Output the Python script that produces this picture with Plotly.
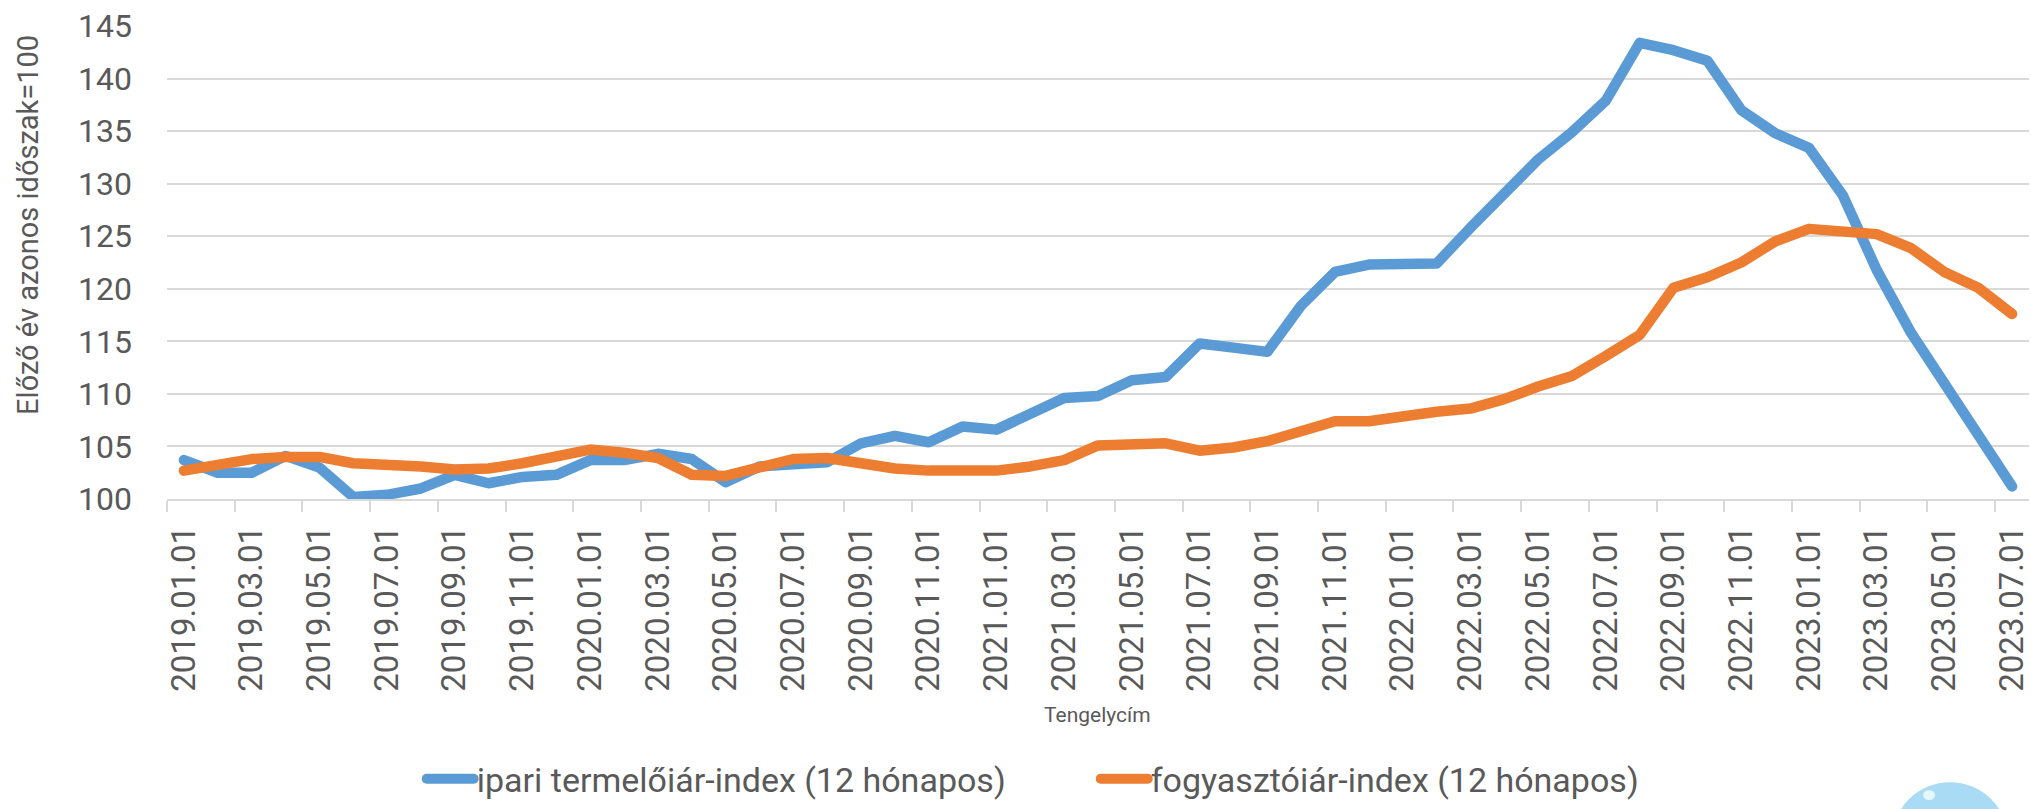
import plotly.graph_objects as go

months = [
    "2019.01.01", "2019.02.01", "2019.03.01", "2019.04.01", "2019.05.01", "2019.06.01",
    "2019.07.01", "2019.08.01", "2019.09.01", "2019.10.01", "2019.11.01", "2019.12.01",
    "2020.01.01", "2020.02.01", "2020.03.01", "2020.04.01", "2020.05.01", "2020.06.01",
    "2020.07.01", "2020.08.01", "2020.09.01", "2020.10.01", "2020.11.01", "2020.12.01",
    "2021.01.01", "2021.02.01", "2021.03.01", "2021.04.01", "2021.05.01", "2021.06.01",
    "2021.07.01", "2021.08.01", "2021.09.01", "2021.10.01", "2021.11.01", "2021.12.01",
    "2022.01.01", "2022.02.01", "2022.03.01", "2022.04.01", "2022.05.01", "2022.06.01",
    "2022.07.01", "2022.08.01", "2022.09.01", "2022.10.01", "2022.11.01", "2022.12.01",
    "2023.01.01", "2023.02.01", "2023.03.01", "2023.04.01", "2023.05.01", "2023.06.01",
    "2023.07.01",
]

ipari = [
    103.7, 102.5, 102.5, 104.1, 103.0, 100.2, 100.4, 101.0, 102.3, 101.5, 102.1, 102.3,
    103.7, 103.7, 104.3, 103.8, 101.6, 103.1, 103.3, 103.5, 105.3, 106.0, 105.4, 106.9,
    106.6, 108.1, 109.6, 109.8, 111.3, 111.6, 114.8, 114.4, 114.0, 118.4, 121.6, 122.3,
    122.3, 122.4, 125.8, 128.9, 132.3, 134.9, 137.9, 143.4, 142.7, 141.7, 137.0, 134.8,
    133.4, 128.9, 121.8, 115.9, 110.9, 106.2, 101.2,
]

fogyasztoi = [
    102.7, 103.2, 103.8, 104.0, 104.0, 103.4, 103.3, 103.1, 102.8, 102.9, 103.4, 104.0,
    104.7, 104.4, 103.9, 102.3, 102.2, 103.0, 103.8, 103.9, 103.3, 102.9, 102.7, 102.7,
    102.7, 103.1, 103.7, 105.1, 105.1, 105.3, 104.6, 104.9, 105.5, 106.5, 107.4, 107.4,
    107.9, 108.3, 108.6, 109.5, 110.7, 111.7, 113.6, 115.6, 120.1, 121.1, 122.5, 124.5,
    125.7, 125.4, 125.2, 123.9, 121.6, 120.1, 117.6,
]

series_names = ["ipari termelőiár-index (12 hónapos)", "fogyasztóiár-index (12 hónapos)"]
y_title = "Előző év azonos időszak=100"
x_title = "Tengelycím"

BLUE = "#5B9BD5"
ORANGE = "#ED7D31"
GRID = "#D9D9D9"
TXT = "#595959"
FONT = "Roboto, 'Open Sans', sans-serif"

W, H = 2031, 809
ML, MR, MT, MB = 167, 0, 26, 307

fig = go.Figure()
fig.add_trace(go.Scatter(x=months, y=ipari, mode="lines", name=series_names[0],
                         line=dict(color=BLUE, width=10.5)))
fig.add_trace(go.Scatter(x=months, y=fogyasztoi, mode="lines", name=series_names[1],
                         line=dict(color=ORANGE, width=10.5)))

pw = W - ML - MR
ph = H - MT - MB

def px_x(x):
    return (x - ML) / pw

def px_y(y):
    return (H - MB - y) / ph

fig.update_layout(
    width=W, height=H,
    margin=dict(l=ML, r=MR, t=MT, b=MB, pad=0),
    paper_bgcolor="white", plot_bgcolor="white",
    font=dict(family=FONT, color=TXT),
    showlegend=True,
    legend=dict(orientation="h", x=px_x(417), y=px_y(784), xanchor="left", yanchor="middle",
                font=dict(size=34, color=TXT, family=FONT), bgcolor="rgba(0,0,0,0)",
                itemwidth=50, entrywidth=609, entrywidthmode="pixels", borderwidth=0),
    xaxis=dict(type="category", range=[-0.5, 54.5], tickmode="linear", tick0=0, dtick=2,
               tickson="boundaries", ticks="outside", ticklen=11, tickcolor=GRID, tickwidth=1.5,
               showline=True, linecolor=GRID, linewidth=1.5, showgrid=False,
               tickangle=-90, tickfont=dict(size=33, color=TXT, family=FONT),
               ticklabelstandoff=12),
    yaxis=dict(range=[100, 145], tickmode="linear", tick0=100, dtick=5,
               showgrid=True, gridcolor=GRID, gridwidth=1.5, zeroline=False, showline=False,
               ticks="", tickfont=dict(size=32, color=TXT, family=FONT),
               ticklabelstandoff=34),
    annotations=[
        dict(text=y_title, textangle=-90, xref="paper", yref="paper",
             x=px_x(28), y=px_y(226), xanchor="center", yanchor="middle", showarrow=False,
             font=dict(size=29, color=TXT, family=FONT)),
        dict(text=x_title, xref="paper", yref="paper",
             x=px_x(1098), y=px_y(719), xanchor="center", yanchor="middle", showarrow=False,
             font=dict(size=21, color=TXT, family=FONT)),
    ],
    shapes=[
        dict(type="circle", xref="paper", yref="paper",
             x0=px_x(1894), x1=px_x(2010), y0=px_y(903), y1=px_y(787),
             fillcolor="#A9DCF4", line=dict(width=0), layer="above"),
        dict(type="circle", xref="paper", yref="paper",
             x0=px_x(1925), x1=px_x(1937), y0=px_y(805), y1=px_y(795),
             fillcolor="#E6F6FD", line=dict(width=0), layer="above"),
    ],
)

post = """
document.body.style.margin='0';
document.body.style.overflow='hidden';
document.querySelectorAll('.scatterlayer .js-line').forEach(function(p){p.style.strokeLinejoin='round';p.style.strokeLinecap='round';});
document.querySelectorAll('.legend .traces').forEach(function(g){
  var t = g.querySelector('text.legendtext');
  var tx = t ? parseFloat(t.getAttribute('x')) : 60;
  g.querySelectorAll('.legendlines path').forEach(function(p){
    p.setAttribute('d', 'M' + (tx - 50) + ',0h47');
    p.style.strokeLinecap='round';
  });
});
"""
fig.write_html("out.html", post_script=post, config={"displayModeBar": False})
